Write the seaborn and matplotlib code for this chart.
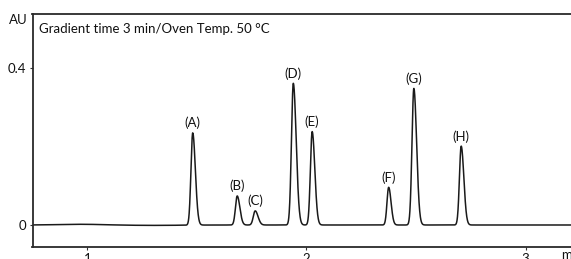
import numpy as np
import pandas as pd
import seaborn as sns
import matplotlib.pyplot as plt

# peak table
peak_names = ['(A)', '(B)', '(C)', '(D)', '(E)', '(F)', '(G)', '(H)']
peak_times = [1.481, 1.684, 1.766, 1.940, 2.026, 2.375, 2.490, 2.706]   # min
peak_heights = [0.235, 0.074, 0.036, 0.361, 0.238, 0.096, 0.348, 0.201]  # AU
peak_width_front = [0.0080, 0.0080, 0.0085, 0.0085, 0.0080, 0.0075, 0.0085, 0.0080]
peak_width_tail = [0.0120, 0.0120, 0.0130, 0.0130, 0.0120, 0.0110, 0.0125, 0.0120]

# slow baseline drift
drift_times = [0.97, 1.30]
drift_heights = [0.0018, -0.0010]
drift_widths = [0.10, 0.12]

title_text = 'Gradient time 3 min/Oven Temp. 50 °C'
x_ticks = [1, 2, 3]
y_ticks = [0, 0.4]
y_ticklabels = ['0', '0.4']

t = np.linspace(0.75, 3.21, 4000)
signal = np.zeros_like(t)
for t0, h, wf, wt in zip(peak_times, peak_heights, peak_width_front, peak_width_tail):
    w = np.where(t < t0, wf, wt)
    signal += h * np.exp(-0.5 * ((t - t0) / w) ** 2)
for t0, h, w in zip(drift_times, drift_heights, drift_widths):
    signal += h * np.exp(-0.5 * ((t - t0) / w) ** 2)

df = pd.DataFrame({'time': t, 'AU': signal})

sns.set_style('ticks')
plt.rcParams['font.family'] = ['Lato', 'DejaVu Sans']

fig = plt.figure(figsize=(5.71, 2.59), dpi=100)
ax = fig.add_axes([32.5 / 571, 12.5 / 259, 1 - 32.5 / 571, (246.5 - 14) / 259])

sns.lineplot(data=df, x='time', y='AU', ax=ax, color='#1a1a1a', linewidth=1.1)

ax.set_xlim(0.75, 3.207)
ax.set_ylim(-0.0548, 0.5376)
ax.set_xticks(x_ticks)
ax.set_xticklabels([str(v) for v in x_ticks])
ax.set_yticks(y_ticks)
ax.set_yticklabels(y_ticklabels)
ax.set_xlabel('')
ax.set_ylabel('')
ax.tick_params(axis='both', length=2.5, width=0.8, color='#333333', labelsize=9.5,
               labelcolor='#111111', pad=2)

ax.spines['right'].set_visible(False)
for side in ['left', 'bottom', 'top']:
    ax.spines[side].set_color('#2a2a2a')
    ax.spines[side].set_linewidth(1.3)

for name, t0, h in zip(peak_names, peak_times, peak_heights):
    ax.annotate(name, xy=(t0, h), xytext=(0, 2.5), textcoords='offset points',
                ha='center', va='bottom', fontsize=9.5, color='#111111')

ax.text(0.012, 0.935, title_text, transform=ax.transAxes, ha='left', va='center',
        fontsize=9.5, color='#111111')
fig.text(28 / 571, 1 - 20 / 259, 'AU', ha='right', va='center', fontsize=9.5, color='#111111')
fig.text(561 / 571, 1 - 255 / 259, 'min', ha='left', va='center', fontsize=9.5, color='#111111')

fig.savefig('out.png', dpi=100)
